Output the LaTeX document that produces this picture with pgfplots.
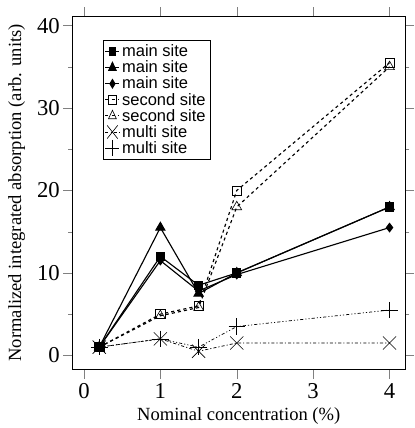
\documentclass[border=0pt]{standalone}
\usepackage{pgfplots}
\pgfplotsset{compat=1.18}
\usepackage{fontspec}
\setmainfont{Liberation Serif}
\newfontfamily\legfont{Liberation Sans}
\begin{document}
\begin{tikzpicture}
\begin{axis}[
  width=322pt, height=342pt, scale only axis,
  xmin=-0.148, xmax=4.2, ymin=-1.69, ymax=41.1,
  xtick={0,1,2,3,4}, ytick={0,10,20,30,40},
  minor y tick num=1,
  tick align=outside, tick pos=both,
  major tick length=9pt, minor tick length=4.5pt,
  xlabel={Nominal concentration (\%)},
  ylabel={Normalized integrated absorption (arb. units)},
  ticklabel style={font=\fontsize{22}{22}\selectfont},
  xticklabel style={yshift=-1pt},
  label style={font=\fontsize{18}{18}\selectfont},
  ylabel style={inner ysep=8pt},
  xlabel style={yshift=-2pt},
  /pgf/number format/assume math mode=true,
  every axis plot/.append style={black, line width=1.1pt},
  legend style={at={(0.09,0.932)}, anchor=north west, font=\legfont\fontsize{16}{17}\selectfont,
    draw=black, row sep=-1.5pt, inner sep=2pt},
  legend image post style={xscale=0.8},
  legend cell align=left,
  extra description/.code={\path (rel axis cs:0,1) ++(0,16pt);},
]
\addplot[solid, mark=square*, mark size=4pt] coordinates {(0.2,1) (1,12) (1.5,8.5) (2,10) (4,18)};
\addlegendentry{main site}
\addplot[solid, mark=triangle*, mark size=5pt] coordinates {(0.2,1) (1,15.5) (1.5,7.5) (2,10) (4,18)};
\addlegendentry{main site}
\addplot[solid, mark=diamond*, mark size=4pt] coordinates {(0.2,1) (1,11.5) (1.5,7.8) (2,9.8) (4,15.5)};
\addlegendentry{main site}
\addplot[dashed, mark=square, mark size=4.5pt, mark options={solid, line width=0.6pt}] coordinates {(0.2,1) (1,5) (1.5,6) (2,20) (4,35.5)};
\addlegendentry{second site}
\addplot[dashed, mark=triangle, mark size=5.5pt, mark options={solid, line width=0.6pt}] coordinates {(0.2,1) (1,4.8) (1.5,5.8) (2,18) (4,35)};
\addlegendentry{second site}
\addplot[dash dot, line width=0.7pt, mark=x, mark size=9pt, mark options={solid, line width=0.6pt}] coordinates {(0.2,1) (1,2) (1.5,0.5) (2,1.5) (4,1.5)};
\addlegendentry{multi site}
\addplot[dash dot dot, line width=0.7pt, mark=+, mark size=8pt, mark options={solid, line width=0.6pt}] coordinates {(0.2,1) (1,2) (1.5,1) (2,3.5) (4,5.5)};
\addlegendentry{multi site}
\end{axis}
\end{tikzpicture}
\end{document}
